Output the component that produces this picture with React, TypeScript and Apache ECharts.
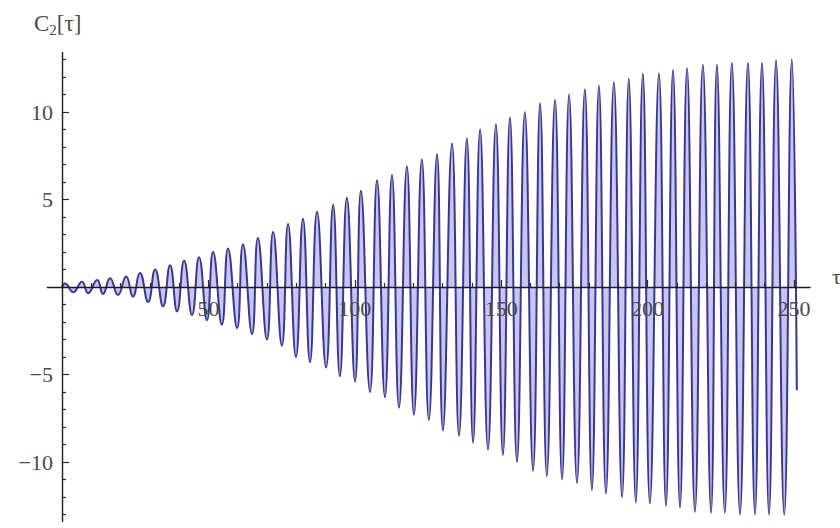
import React, { useEffect, useRef } from "react";
import * as echarts from "echarts";

// Oscillation extrema (tau, value)
const startPoint = [0, 0];
const peakTau = [
  1.0, 6.8, 12.0, 16.4, 21.9, 26.6, 31.8, 36.9, 41.7, 46.8,
  51.6, 56.7, 61.8, 66.9, 72.1, 77.2, 82.3, 87.1, 92.6, 97.3,
  102.1, 107.6, 112.7, 117.8, 122.9, 128.1, 133.2, 138.3, 142.8, 148.2,
  153.0, 158.1, 163.3, 168.4, 173.2, 178.6, 183.4, 188.5, 193.6, 198.4,
  203.9, 208.7, 213.5, 218.9, 223.7, 228.8, 234.3, 239.1, 243.9, 249.3,
];
const peakVal = [
  0.2, 0.3, 0.4, 0.5, 0.6, 0.8, 1.0, 1.25, 1.5, 1.7,
  2.0, 2.2, 2.45, 2.8, 3.15, 3.6, 3.9, 4.3, 4.7, 5.1,
  5.5, 6.1, 6.4, 6.9, 7.3, 7.6, 8.2, 8.5, 9.0, 9.3,
  9.7, 10.0, 10.5, 10.7, 11.0, 11.3, 11.5, 11.7, 11.9, 12.2,
  12.2, 12.4, 12.5, 12.7, 12.7, 12.8, 12.8, 12.8, 12.95, 13.0,
];
const troughTau = [
  3.8, 8.9, 14.0, 19.1, 24.2, 29.4, 34.5, 39.3, 44.4, 49.5,
  54.6, 59.8, 64.9, 70.0, 75.1, 79.9, 84.7, 90.2, 94.9, 100.1,
  105.2, 110.3, 115.1, 120.2, 125.3, 130.1, 135.6, 140.4, 145.5, 150.6,
  155.4, 160.9, 165.6, 170.8, 175.9, 181.0, 185.8, 191.3, 196.0, 200.8,
  206.3, 211.1, 216.2, 221.7, 226.4, 231.6, 236.7, 241.5, 246.7,
];
const troughVal = [
  -0.3, -0.35, -0.4, -0.45, -0.55, -0.85, -1.1, -1.4, -1.6, -1.9,
  -2.15, -2.35, -2.7, -3.0, -3.35, -4.0, -4.3, -4.6, -5.1, -5.4,
  -6.0, -6.3, -6.9, -7.3, -7.6, -8.2, -8.5, -8.9, -9.3, -9.6,
  -10.0, -10.5, -10.8, -11.0, -11.2, -11.6, -11.8, -12.0, -12.3, -12.35,
  -12.5, -12.6, -12.85, -12.9, -12.9, -13.0, -13.0, -13.0, -13.0,
];
const endPoint = [251.0, -5.9];

const xMajorTicks = [50, 100, 150, 200, 250];
const yMajorTicks = [-10, -5, 5, 10];

const X_MIN = -5;
const X_MAX = 255.5;
const Y_MIN = -13.4;
const Y_MAX = 13.4;
const W = 840;
const H = 528;
const GRID = { left: 47.4, right: 30, top: 52.5, bottom: 6.5 };

function buildSeries() {
  const pts: number[][] = [startPoint];
  for (let i = 0; i < peakTau.length; i++) {
    pts.push([peakTau[i], peakVal[i]]);
    if (i < troughTau.length) pts.push([troughTau[i], troughVal[i]]);
  }
  pts.push(endPoint);
  return pts;
}

function minorTicks(lo: number, hi: number, step: number, majorStep: number) {
  const out: number[] = [];
  for (let v = lo; v <= hi + 1e-9; v += step) {
    if (Math.abs(v) > 1e-9 && Math.abs(v % majorStep) > 1e-9) out.push(v);
  }
  return out;
}

const FONT = '"Liberation Serif", "DejaVu Serif", "Times New Roman", serif';
const TXT = "#4a4a4a";

export default function App() {
  const ref = useRef<HTMLDivElement>(null);
  useEffect(() => {
    if (!ref.current) return;
    const chart = echarts.init(ref.current, undefined, { renderer: "svg" });
    const xMinor = minorTicks(10, 250, 10, 50);
    const yMinor = minorTicks(-13, 13, 1, 5);
    const fmt = (v: number) => (v < 0 ? "\u2212" + Math.abs(v) : String(v));
    const axisLineStyle = { color: "#1c1c1c", width: 1.4 };
    const tickStyle = { color: "#2a2a2a", width: 1.2 };

    // axes cross at (0, 0): shift them inside the grid with (negative) offsets
    const plotW = W - GRID.left - GRID.right;
    const plotH = H - GRID.top - GRID.bottom;
    const zeroXfromLeft = ((0 - X_MIN) / (X_MAX - X_MIN)) * plotW;
    const zeroYfromTop = ((Y_MAX - 0) / (Y_MAX - Y_MIN)) * plotH;
    const offBottom = -(plotH - zeroYfromTop);
    const offTop = -zeroYfromTop;
    const offLeft = -zeroXfromLeft;
    const offRight = -(plotW - zeroXfromLeft);

    chart.setOption({
      animation: false,
      backgroundColor: "#ffffff",
      title: {
        text: "{c|C}{s|2}{c|[\u03c4]}",
        left: 29,
        top: 5,
        textStyle: {
          fontWeight: "normal",
          rich: {
            c: { fontFamily: FONT, fontSize: 23, color: TXT, fontWeight: "normal" },
            s: { fontFamily: FONT, fontSize: 15, color: TXT, fontWeight: "normal", padding: [12, 0, 0, 0] },
          },
        },
      },
      grid: {
        left: GRID.left,
        right: GRID.right,
        top: GRID.top,
        bottom: GRID.bottom,
        containLabel: false,
        outerBoundsMode: "none",
      },
      xAxis: [
        {
          type: "value",
          min: X_MIN,
          max: X_MAX,
          position: "bottom",
          offset: offBottom,
          z: 10,
          axisLine: { show: false, onZero: false },
          axisTick: { show: true, inside: true, length: 4, customValues: xMinor, lineStyle: tickStyle },
          axisLabel: {
            customValues: xMajorTicks,
            margin: 10,
            fontFamily: FONT,
            fontSize: 22,
            color: TXT,
            formatter: fmt,
          },
          splitLine: { show: false },
        },
        {
          type: "value",
          min: X_MIN,
          max: X_MAX,
          position: "top",
          offset: offTop,
          z: 10,
          axisLine: { show: true, onZero: false, lineStyle: axisLineStyle },
          axisTick: { show: true, inside: false, length: 7, customValues: xMajorTicks, lineStyle: tickStyle },
          axisLabel: { show: false },
          splitLine: { show: false },
          name: "\u03c4",
          nameLocation: "end",
          nameGap: 22,
          nameTextStyle: {
            fontFamily: FONT,
            fontSize: 22,
            color: TXT,
            verticalAlign: "bottom",
          },
        },
      ],
      yAxis: [
        {
          type: "value",
          min: Y_MIN,
          max: Y_MAX,
          position: "left",
          offset: offLeft,
          z: 10,
          axisLine: { onZero: false, lineStyle: axisLineStyle },
          axisTick: { show: true, inside: true, length: 4, customValues: yMinor, lineStyle: tickStyle },
          axisLabel: {
            customValues: yMajorTicks,
            margin: 9,
            fontFamily: FONT,
            fontSize: 22,
            color: TXT,
            formatter: fmt,
          },
          splitLine: { show: false },
        },
        {
          type: "value",
          min: Y_MIN,
          max: Y_MAX,
          position: "right",
          offset: offRight,
          z: 10,
          axisLine: { show: false, onZero: false },
          axisTick: { show: true, inside: false, length: 7, customValues: yMajorTicks, lineStyle: tickStyle },
          axisLabel: { show: false },
          splitLine: { show: false },
        },
      ],
      series: [
        {
          type: "line",
          xAxisIndex: 0,
          yAxisIndex: 0,
          data: buildSeries(),
          smooth: 0.5,
          symbol: "none",
          lineStyle: { color: "#38388f", width: 2 },
          areaStyle: { color: "#c6c6f0", opacity: 1 },
          z: 2,
        },
      ],
    });
    return () => chart.dispose();
  }, []);
  return (
    <div
      ref={ref}
      style={{ position: "fixed", left: 0, top: 0, width: W, height: H, background: "#fff" }}
    />
  );
}
